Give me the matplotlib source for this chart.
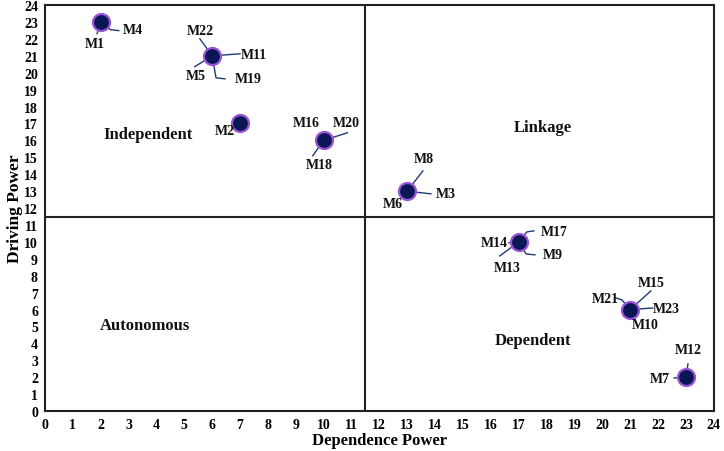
import matplotlib
matplotlib.use('Agg')
import matplotlib.pyplot as plt

plt.rcParams['font.family'] = ['Liberation Serif', 'DejaVu Serif']
plt.rcParams['font.weight'] = 'bold'

# cluster positions (dependence, driving)
dependence = [2, 6, 7, 10, 13, 17, 21, 23]
driving = [23, 21, 17, 16, 13, 10, 6, 2]

# labels for each cluster: (name, text offset, leader path offsets)
cluster_labels = [
    [('M1', (-0.21, -1.28), [(-0.13, -0.69)]),
     ('M4', (1.16, -0.46), [(0.35, -0.45), (0.65, -0.51)])],
    [('M22', (-0.44, 1.49), [(-0.44, 1.01)]),
     ('M11', (1.5, 0.07), [(1.0, 0.12)]),
     ('M5', (-0.58, -1.18), [(-0.62, -0.64)]),
     ('M19', (1.28, -1.36), [(0.14, -1.3), (0.46, -1.36)])],
    [('M2', (-0.54, -0.43), [])],
    [('M16', (-0.64, 1.04), []),
     ('M20', (0.8, 1.04), [(0.85, 0.45)]),
     ('M18', (-0.17, -1.45), [(-0.39, -0.91)])],
    [('M8', (0.6, 1.91), [(0.56, 1.2)]),
     ('M3', (1.38, -0.16), [(0.85, -0.16)]),
     ('M6', (-0.52, -0.75), [])],
    [('M17', (1.26, 0.59), [(0.29, 0.59), (0.54, 0.65)]),
     ('M14', (-0.89, -0.06), [(-0.35, -0.05)]),
     ('M9', (1.22, -0.77), [(0.26, -0.71), (0.58, -0.77)]),
     ('M13', (-0.43, -1.54), [(-0.68, -0.83)])],
    [('M15', (0.74, 1.57), [(0.74, 1.1)]),
     ('M21', (-0.88, 0.63), [(-0.3, 0.57), (-0.52, 0.69)]),
     ('M23', (1.31, 0.04), [(0.81, 0.09)]),
     ('M10', (0.52, -0.91), [])],
    [('M12', (0.07, 1.61), [(0.07, 0.78)]),
     ('M7', (-0.94, -0.05), [(-0.43, -0.05)])],
]

quadrants = ['Independent', 'Linkage', 'Autonomous', 'Dependent']
quadrant_pos = [(3.7, 16.4), (17.87, 16.8), (3.59, 5.09), (17.5, 4.2)]

fig = plt.figure(figsize=(7.24, 4.52), dpi=100)
ax = fig.add_axes([0.062, 0.0885, 0.924, 0.898])

ax.set_xlim(0, 24)
ax.set_ylim(0, 24)
ax.set_xticks(range(0, 25))
ax.set_yticks(range(0, 25))
ax.tick_params(length=0, labelsize=10, pad=5)
for lab in ax.get_xticklabels() + ax.get_yticklabels():
    lab.set_fontweight('bold')
for s in ax.spines.values():
    s.set_linewidth(1.5)
    s.set_color('#222222')

ax.axvline(11.5, color='#222222', lw=1.5)
ax.axhline(11.5, color='#222222', lw=1.5)

line_color = '#1f3a78'
for x, y, labels in zip(dependence, driving, cluster_labels):
    for name, (tx, ty), path in labels:
        if path:
            xs = [x] + [x + p[0] for p in path]
            ys = [y] + [y + p[1] for p in path]
            ax.plot(xs, ys, color=line_color, lw=1.0, zorder=2)
        ax.text(x + tx, y + ty, name, ha='center', va='center',
                fontsize=10, fontweight='bold', color='#111111', zorder=4)

ax.scatter(dependence, driving, s=150, color='#0b1656',
           edgecolors='#9a55d6', linewidths=1.6, zorder=3)

for q, (qx, qy) in zip(quadrants, quadrant_pos):
    ax.text(qx, qy, q, ha='center', va='center', fontsize=12,
            fontweight='bold', color='#111111')

ax.set_xlabel('Dependence Power', fontsize=12, fontweight='bold', labelpad=1)
ax.set_ylabel('Driving Power', fontsize=12.5, fontweight='bold', labelpad=1)

fig.savefig('out.png', dpi=100)
